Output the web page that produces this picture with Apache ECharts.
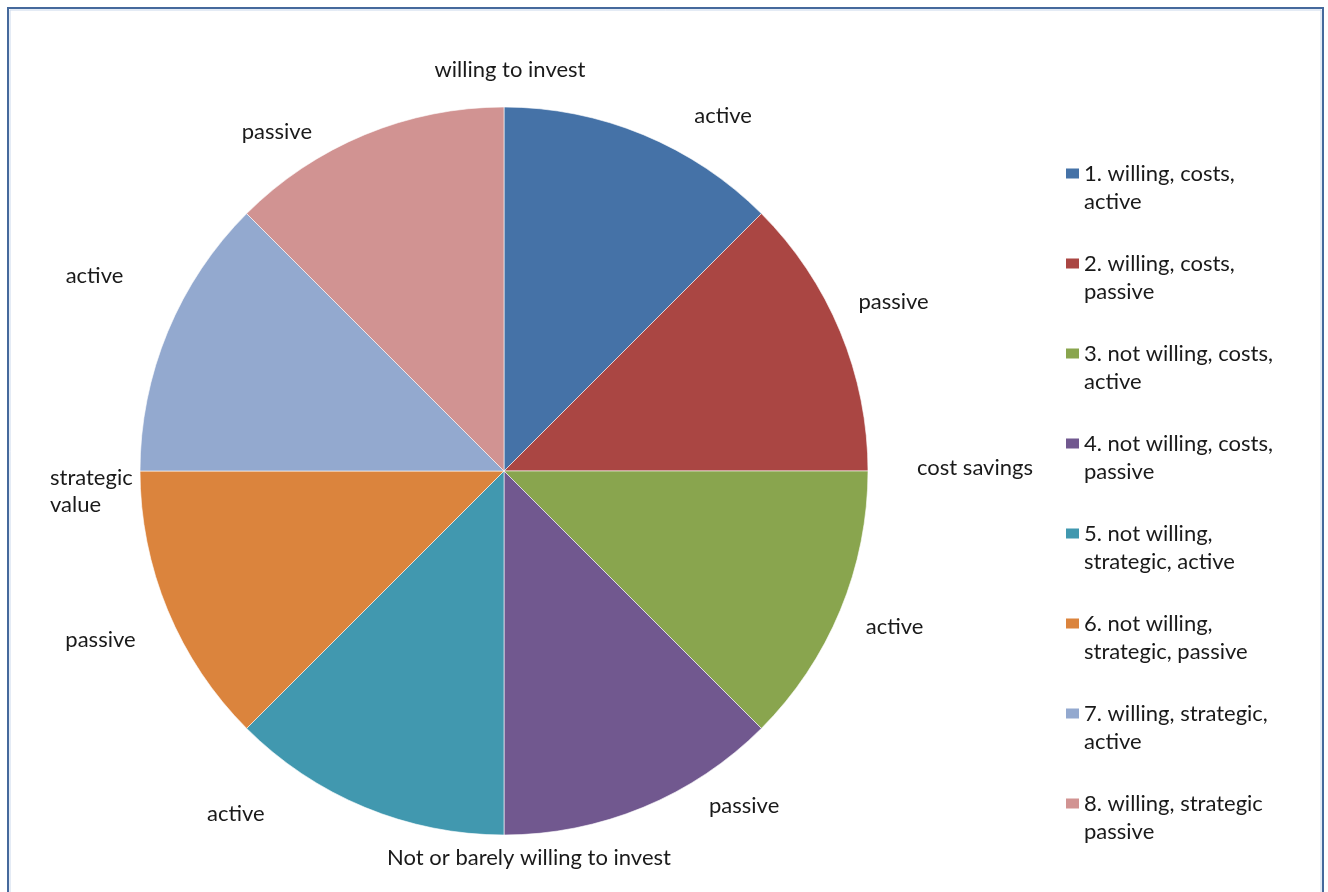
<!DOCTYPE html>
<html>
<head>
<meta charset="utf-8">
<script src="https://cdn.jsdelivr.net/npm/echarts@6/dist/echarts.min.js"></script>
<style>
  html, body { margin: 0; padding: 0; background: #ffffff; }
  #chart { width: 1328px; height: 892px; }
</style>
</head>
<body>
<div id="chart"></div>
<script>
// Investment-attitude segments (equal shares of the matrix)
const segments = [
  '1. willing, costs,\nactive',
  '2. willing, costs,\npassive',
  '3. not willing, costs,\nactive',
  '4. not willing, costs,\npassive',
  '5. not willing,\nstrategic, active',
  '6. not willing,\nstrategic, passive',
  '7. willing, strategic,\nactive',
  '8. willing, strategic\npassive'
];
const shares = [1, 1, 1, 1, 1, 1, 1, 1];
const sliceLabels = ['active', 'passive', 'active', 'passive', 'active', 'passive', 'active', 'passive'];
const colors = ['#4572A7', '#AA4643', '#89A54E', '#71588F', '#4198AF', '#DB843D', '#93A9CF', '#D19392'];
// Dimension captions around the pie: top, right, bottom, left
const dimensionLabels = ['willing to invest', 'cost savings', 'Not or barely willing to invest', 'strategic\nvalue'];

// Small per-slice nudges for the outside labels
const labelNudges = [[76, -10], [44, -26], [45, 13], [97, -11], [-125, -3], [-58, 26], [-64, -52], [-84, 6]];

const FONT = 'Lato';
const FONT_SIZE = 22;
const TEXT = '#1a1a1a';

const chart = echarts.init(document.getElementById('chart'), null, { renderer: 'canvas' });

const captionStyle = { fontFamily: FONT, fontSize: FONT_SIZE, fill: TEXT };

chart.setOption({
  animation: false,
  backgroundColor: '#ffffff',
  color: colors,
  legend: {
    orient: 'vertical',
    left: 1061,
    top: 155,
    itemWidth: 13,
    itemHeight: 39,
    itemGap: 34,
    icon: 'path://M0,0H13V10H0Z M0,38.99H0.01V39H0Z',
    itemStyle: { borderWidth: 0 },
    textStyle: { fontFamily: FONT, fontSize: FONT_SIZE, lineHeight: 28, color: TEXT },
    selectedMode: false
  },
  graphic: [
    {
      type: 'rect', z: -1, silent: true,
      shape: { x: 8, y: 8, width: 1315, height: 910 },
      style: { fill: 'none', stroke: '#45699c', lineWidth: 2 }
    },
    {
      type: 'rect', z: -1, silent: true,
      shape: { x: 10, y: 10, width: 1311, height: 910 },
      style: { fill: 'none', stroke: '#c9d8ec', lineWidth: 1 }
    },
    { type: 'text', silent: true,
      style: Object.assign({ text: dimensionLabels[0], x: 510, y: 70, align: 'center', verticalAlign: 'middle' }, captionStyle) },
    { type: 'text', silent: true,
      style: Object.assign({ text: dimensionLabels[1], x: 975, y: 468, align: 'center', verticalAlign: 'middle' }, captionStyle) },
    { type: 'text', silent: true,
      style: Object.assign({ text: dimensionLabels[2], x: 529, y: 858, align: 'center', verticalAlign: 'middle' }, captionStyle) },
    { type: 'text', silent: true,
      style: Object.assign({ text: dimensionLabels[3], x: 50, y: 491, align: 'left', verticalAlign: 'middle', lineHeight: 27 }, captionStyle) }
  ],
  series: [{
    type: 'pie',
    center: [504, 471],
    radius: 364,
    startAngle: 90,
    clockwise: true,
    avoidLabelOverlap: false,
    silent: true,
    itemStyle: { borderColor: '#ffffff', borderWidth: 0.6 },
    label: {
      show: true,
      position: 'outside',
      distanceToLabelLine: 0,
      fontFamily: FONT,
      fontSize: FONT_SIZE,
      color: TEXT,
      formatter: p => sliceLabels[p.dataIndex]
    },
    labelLine: { show: false, length: 10, length2: 0 },
    labelLayout: p => {
      const n = labelNudges[p.dataIndex];
      return { align: 'center', verticalAlign: 'middle', dx: n[0], dy: n[1] };
    },
    data: segments.map((name, i) => ({ name: name, value: shares[i] }))
  }]
});
</script>
</body>
</html>
